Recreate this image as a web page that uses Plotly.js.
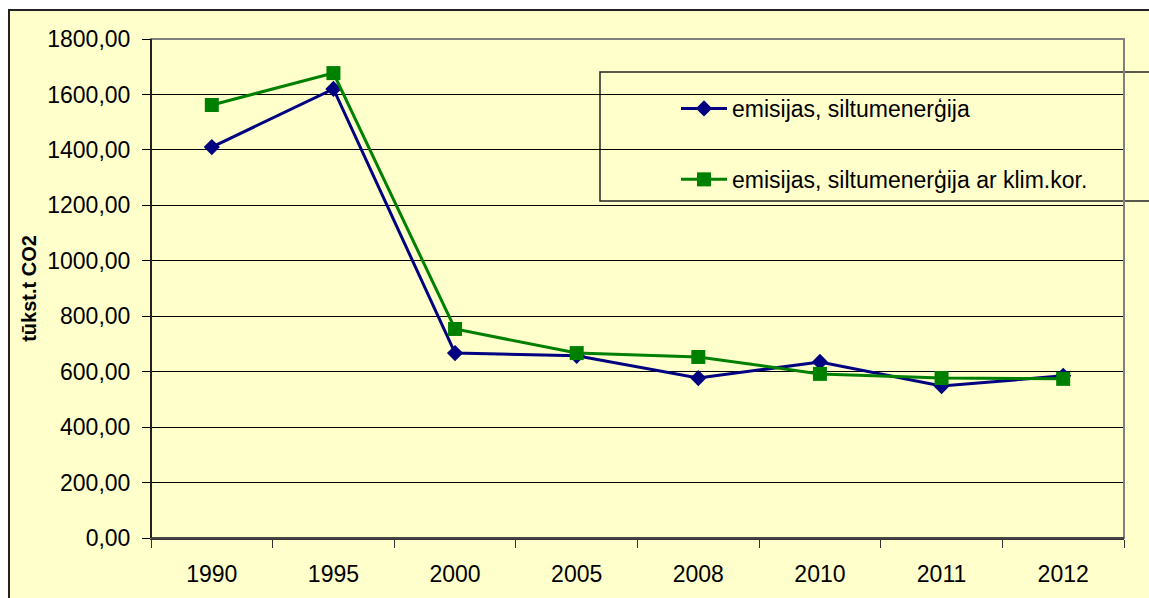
<!DOCTYPE html>
<html>
<head>
<meta charset="utf-8">
<script src="https://cdn.plot.ly/plotly-3.0.1.min.js"></script>
<style>
  html, body { margin: 0; padding: 0; background: #ffffff; overflow: hidden; width: 1149px; height: 598px; }
  #chart { position: absolute; left: 8px; top: 9px; width: 1160px; height: 600px; border: 2px solid #222; border-right: none; border-bottom: none; background: #FFFFCC; }
</style>
</head>
<body>
<div id="chart"></div>
<script>
const years = ["1990", "1995", "2000", "2005", "2008", "2010", "2011", "2012"];
const emisijas = [1410, 1620, 667, 657, 577, 635, 548, 585];
const emisijasKlim = [1562, 1677, 754, 667, 653, 592, 577, 574];
const seriesNames = ["emisijas, siltumenerģija", "emisijas, siltumenerģija ar klim.kor."];
const yTicks = [0, 200, 400, 600, 800, 1000, 1200, 1400, 1600, 1800];

const FONT = "Liberation Sans, Arial, sans-serif";

const traces = [
  {
    x: years, y: emisijas, name: seriesNames[0], type: "scatter", mode: "lines+markers",
    line: { color: "#000080", width: 3 },
    marker: { symbol: "diamond", size: 12.5, color: "#000080" },
    legendgroup: "a"
  },
  {
    x: years, y: emisijasKlim, name: seriesNames[1], type: "scatter", mode: "lines+markers",
    line: { color: "#008000", width: 3 },
    marker: { symbol: "square", size: 14, color: "#008000" },
    legendgroup: "b"
  }
];

// plot area in div-inner coords: left 141, top 28, width 973, height 499
const L = 141, T = 28, W = 973, H = 499;
const px2x = p => (p - 10 - L) / W;          // absolute page px -> paper x
const py2y = p => 1 - (p - 11 - T) / H;      // absolute page px -> paper y

const layout = {
  width: 1160, height: 600,
  margin: { l: L, t: T, r: 1160 - L - W, b: 600 - T - H },
  paper_bgcolor: "#FFFFCC", plot_bgcolor: "#FFFFCC",
  font: { family: FONT, size: 23, color: "#000" },
  showlegend: true,
  legend: {
    x: px2x(676), y: py2y(87), xanchor: "left", yanchor: "top",
    bgcolor: "rgba(0,0,0,0)", borderwidth: 0,
    traceorder: "grouped", tracegroupgap: 38, itemwidth: 46,
    font: { family: FONT, size: 23, color: "#000" }
  },
  xaxis: {
    type: "category", range: [-0.5, 7.5], fixedrange: true,
    showline: true, linecolor: "#333", linewidth: 1.5,
    ticks: "outside", tickson: "boundaries", ticklen: 8, tickcolor: "#333", tickwidth: 1,
    ticklabelstandoff: 15,
    showgrid: false, zeroline: false,
    tickfont: { family: FONT, size: 23, color: "#000" }
  },
  yaxis: {
    range: [0, 1800], tickvals: yTicks, tickformat: ".2f",
    showline: true, linecolor: "#000", linewidth: 1,
    ticks: "outside", ticklen: 8, tickcolor: "#000",
    ticklabelstandoff: 7,
    showgrid: true, gridcolor: "#000", gridwidth: 1, zeroline: false,
    tickfont: { family: FONT, size: 23, color: "#000" },
    title: { text: "tūkst.t CO2", font: { family: FONT, size: 20, color: "#000", weight: "bold" }, standoff: 5 },
    automargin: false
  },
  separators: ", ",
  shapes: [
    { type: "rect", xref: "paper", yref: "paper", x0: 0, x1: 1, y0: 0, y1: 1,
      line: { color: "#808080", width: 2 }, fillcolor: "rgba(0,0,0,0)", layer: "above" },
    { type: "line", xref: "paper", yref: "paper", x0: 0, x1: 0, y0: 0, y1: 1,
      line: { color: "#000", width: 1.5 }, layer: "above" },
    { type: "line", xref: "paper", yref: "paper", x0: 0, x1: 1, y0: 0, y1: 0,
      line: { color: "#333", width: 1.5 }, layer: "above" },
    { type: "rect", xref: "paper", yref: "paper",
      x0: px2x(600), x1: px2x(1160), y0: py2y(201), y1: py2y(72),
      line: { color: "#222", width: 1.5 }, fillcolor: "#FFFFCC", layer: "below" }
  ]
};

Plotly.newPlot("chart", traces, layout, { staticPlot: true, displayModeBar: false });
</script>
</body>
</html>
